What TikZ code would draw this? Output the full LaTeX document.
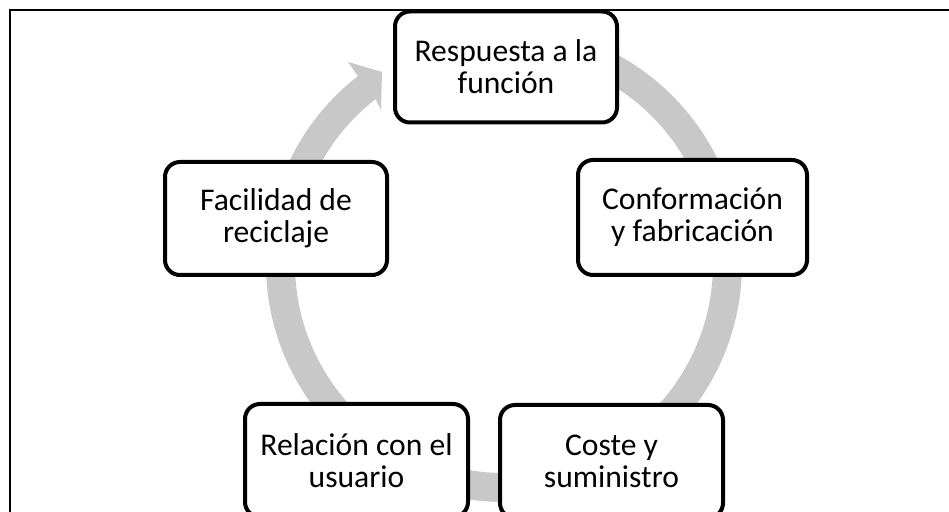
\documentclass[tikz,border=0pt]{standalone}
\usepackage{fontspec}
\setmainfont{Carlito}
\usetikzlibrary{calc}
\definecolor{bandgray}{RGB}{200,200,200}
\begin{document}
\begin{tikzpicture}[x=0.5pt,y=0.5pt,
  box/.style={draw=black, line width=2pt, rounded corners=7.5pt, fill=white,
    align=center, inner sep=0pt, font=\fontsize{15.8}{16}\selectfont}]
\useasboundingbox (0,0) rectangle (949,-512);
\clip (0,0) rectangle (949,-512);
\fill[white] (0,0) rectangle (949,-512);
\draw[line width=1pt] (10,-10) rectangle (990,-560);
\coordinate (c) at (504,-264);
% continuous cycle band with arrow head
\fill[bandgray] ($(c)+(85:119pt)$) arc[start angle=85, end angle=-232.1, radius=119pt]
  -- (348,-62) -- (382,-72) -- (381,-110)
  -- ($(c)+(127.9:104.5pt)$) arc[start angle=127.9, end angle=445, radius=104.5pt] -- cycle;
\node[box, minimum width=111pt, minimum height=55.5pt] (resp) at (506,-67) {Respuesta a la\\función};
\node[box, minimum width=114.5pt, minimum height=57.5pt] (conf) at (692.5,-217.5) {Conformación\\y fabricación};
\node[box, minimum width=111pt, minimum height=56.5pt] (fac) at (276,-218.5) {Facilidad de\\reciclaje};
\node[box, minimum width=111.5pt, minimum height=56.5pt] (rel) at (356.5,-460.5) {Relación con el\\usuario};
\node[box, minimum width=111.5pt, minimum height=56.5pt] (cost) at (611.5,-461.5) {Coste y\\suministro};
\end{tikzpicture}
\end{document}
